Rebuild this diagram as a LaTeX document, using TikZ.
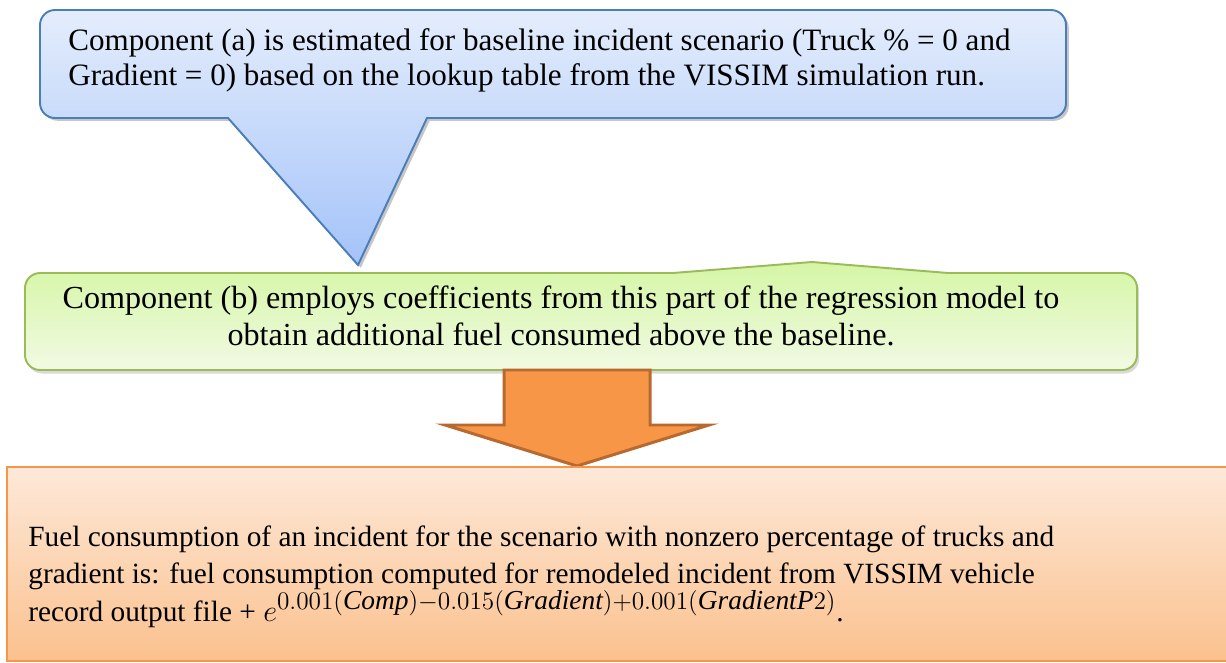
\documentclass[tikz,border=0pt]{standalone}
\usepackage{fontspec}
\setmainfont{Liberation Serif}
\usetikzlibrary{shadows}
\DeclareMathSizes{16.7}{16.7}{15.6}{11}
\definecolor{blueline}{RGB}{74,126,187}
\definecolor{bluetop}{RGB}{228,237,252}
\definecolor{bluebot}{RGB}{164,195,249}
\definecolor{greenline}{RGB}{155,187,89}
\definecolor{greentop}{RGB}{213,246,165}
\definecolor{greenbot}{RGB}{241,250,227}
\definecolor{orangefill}{RGB}{247,150,70}
\definecolor{orangedark}{RGB}{183,105,47}
\definecolor{peachtop}{RGB}{253,233,217}
\definecolor{peachbot}{RGB}{251,193,142}
\tikzset{
  bluecall/.style={draw=blueline,line width=1.1pt,top color=bluetop,bottom color=bluebot,
    drop shadow={shadow xshift=1.6pt,shadow yshift=-1.6pt,opacity=0.45}},
  greencall/.style={draw=greenline,line width=1.1pt,top color=greentop,bottom color=greenbot,
    drop shadow={shadow xshift=1.2pt,shadow yshift=-2pt,opacity=0.3}},
  blockarr/.style={draw=orangedark,fill=orangefill,line width=1.7pt,line join=miter},
  resultbox/.style={draw=orangefill,line width=0.8pt,top color=peachtop,bottom color=peachbot},
  txt/.style 2 args={font=\fontsize{#1}{#2}\selectfont,inner sep=0pt}
}
\begin{document}
\begin{tikzpicture}[x=0.02cm,y=-0.02cm]
  \useasboundingbox (0,0) rectangle (1226,662);
  % top callout, pointing down
  \path[bluecall] (700,10) [rounded corners=0.3cm] -- (1066,10) -- (1066,118)
    [sharp corners] -- (427,118) -- (358,265) -- (228,118)
    [rounded corners=0.3cm] -- (40,118) -- (40,10) -- cycle;
  \node[txt={17.7}{20.2},anchor=base west,align=left] (compa) at (68,86)
    {Component (a) is estimated for baseline incident scenario (Truck \% = 0 and\\
     Gradient = 0) based on the lookup table from the VISSIM simulation run.};
  % middle callout, small wedge on top
  \path[greencall] (25,320) [rounded corners=0.3cm] -- (25,273)
    [sharp corners] -- (673,273) -- (812,262) -- (948,273)
    [rounded corners=0.3cm] -- (1137,273) -- (1137,370) -- (25,370) -- cycle;
  \node[txt={18.3}{21},anchor=base,align=center] (compb) at (561,345)
    {Component (b) employs coefficients from this part of the regression model to\\
     obtain additional fuel consumed above the baseline.};
  % block arrow
  \coordinate (arrtop) at (577,370);
  \coordinate (arrtip) at (577,466);
  \path[blockarr] (504,370) -- (650,370) -- (650,425) -- (709,425) -- (arrtip)
    -- (445,425) -- (504,425) -- cycle;
  % result box
  \path[resultbox] (7,467) rectangle (1230,661);
  \node[txt={16.7}{21.3},anchor=base west,align=left] (fuelcons) at (28,621)
    {Fuel consumption of an incident for the scenario with nonzero percentage of trucks and\\
     gradient is: fuel consumption computed for remodeled incident from VISSIM vehicle\\
     record output file + $e^{0.001(\mathit{Comp})-0.015(\mathit{Gradient})+0.001(\mathit{GradientP}2)}$.};
\end{tikzpicture}
\end{document}
